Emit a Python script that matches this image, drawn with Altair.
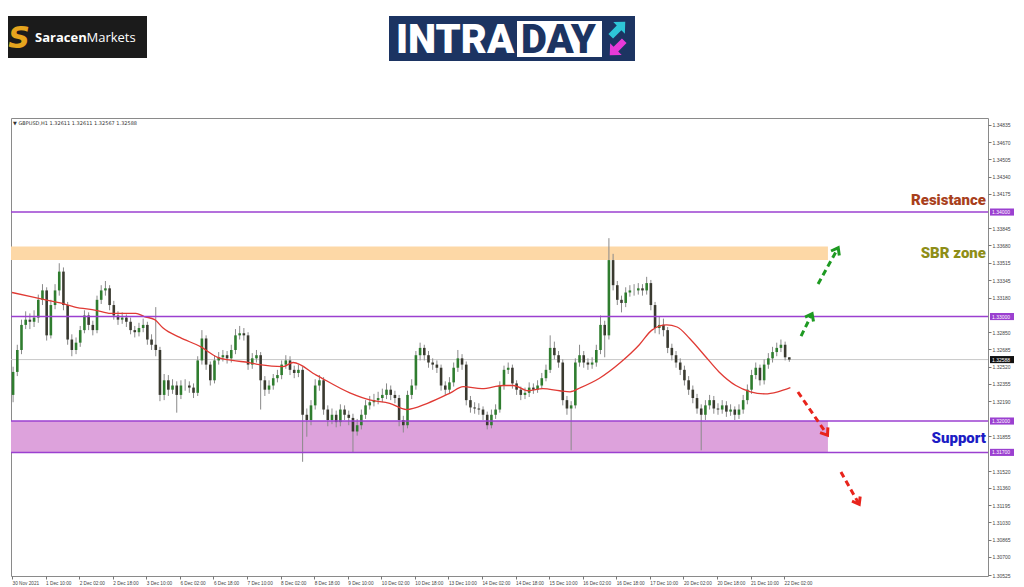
import json
import altair as alt
import pandas as pd

# ------------------------------------------------------------------ data
first_open = 1.3225
closes = [
    1.3247, 1.3268, 1.3292, 1.3297, 1.3295, 1.3299, 1.3316, 1.3325, 1.3282, 1.3311,
    1.3325, 1.3343, 1.3311, 1.3278, 1.3268, 1.3275, 1.3287, 1.3301, 1.3292, 1.3287,
    1.3316, 1.3325, 1.3327, 1.3311, 1.3301, 1.3297, 1.3299, 1.3295, 1.3287, 1.3285,
    1.3289, 1.3292, 1.3278, 1.3273, 1.3268, 1.3225, 1.3239, 1.3230, 1.3234, 1.3225,
    1.3234, 1.3234, 1.3232, 1.3227, 1.3258, 1.3279, 1.3254, 1.3239, 1.3258, 1.3261,
    1.3263, 1.3260, 1.3268, 1.3282, 1.3284, 1.3282, 1.3254, 1.3260, 1.3263, 1.3239,
    1.3230, 1.3234, 1.3241, 1.3244, 1.3254, 1.3258, 1.3249, 1.3246, 1.3249, 1.3206,
    1.3201, 1.3215, 1.3234, 1.3239, 1.3211, 1.3201, 1.3206, 1.3199, 1.3211, 1.3206,
    1.3203, 1.3190, 1.3196, 1.3206, 1.3215, 1.3218, 1.3220, 1.3222, 1.3225, 1.3230,
    1.3225, 1.3222, 1.3201, 1.3196, 1.3225, 1.3234, 1.3263, 1.3270, 1.3263, 1.3256,
    1.3254, 1.3251, 1.3234, 1.3230, 1.3237, 1.3251, 1.3260, 1.3254, 1.3220, 1.3213,
    1.3212, 1.3211, 1.3206, 1.3196, 1.3206, 1.3211, 1.3234, 1.3249, 1.3251, 1.3236,
    1.3230, 1.3225, 1.3227, 1.3232, 1.3230, 1.3234, 1.3241, 1.3249, 1.3270, 1.3263,
    1.3256, 1.3220, 1.3212, 1.3215, 1.3256, 1.3263, 1.3256, 1.3254, 1.3256, 1.3268,
    1.3292, 1.3282, 1.3354, 1.3330, 1.3316, 1.3313, 1.3323, 1.3325, 1.3325, 1.3327,
    1.3325, 1.3332, 1.3311, 1.3289, 1.3292, 1.3287, 1.3270, 1.3263, 1.3256, 1.3249,
    1.3239, 1.3230, 1.3222, 1.3212, 1.3206, 1.3215, 1.3220, 1.3212, 1.3211, 1.3215,
    1.3209, 1.3211, 1.3206, 1.3211, 1.3220, 1.3230, 1.3244, 1.3251, 1.3239, 1.3254,
    1.3260, 1.3266, 1.3270, 1.3273, 1.3261, 1.32588,
]
highs = [
    1.3252, 1.3273, 1.3297, 1.3305, 1.3303, 1.3306, 1.3321, 1.3331, 1.3328, 1.3316,
    1.3331, 1.3351, 1.3347, 1.3314, 1.3283, 1.3280, 1.3291, 1.3306, 1.3304, 1.3296,
    1.3320, 1.3330, 1.3334, 1.3330, 1.3315, 1.3305, 1.3304, 1.3302, 1.3299, 1.3291,
    1.3294, 1.3298, 1.3295, 1.3283, 1.3309, 1.3271, 1.3245, 1.3244, 1.3240, 1.3238,
    1.3239, 1.3240, 1.3238, 1.3236, 1.3262, 1.3287, 1.3282, 1.3257, 1.3263, 1.3266,
    1.3268, 1.3267, 1.3273, 1.3288, 1.3291, 1.3289, 1.3285, 1.3265, 1.3268, 1.3266,
    1.3243, 1.3239, 1.3245, 1.3249, 1.3258, 1.3263, 1.3262, 1.3253, 1.3254, 1.3252,
    1.3212, 1.3220, 1.3240, 1.3244, 1.3242, 1.3215, 1.3212, 1.3210, 1.3216, 1.3215,
    1.3210, 1.3207, 1.3202, 1.3211, 1.3220, 1.3224, 1.3226, 1.3228, 1.3231, 1.3236,
    1.3234, 1.3229, 1.3225, 1.3205, 1.3229, 1.3240, 1.3267, 1.3275, 1.3273, 1.3267,
    1.3260, 1.3258, 1.3254, 1.3238, 1.3242, 1.3256, 1.3268, 1.3264, 1.3257, 1.3224,
    1.3218, 1.3217, 1.3214, 1.3209, 1.3211, 1.3216, 1.3238, 1.3253, 1.3256, 1.3254,
    1.3239, 1.3233, 1.3232, 1.3237, 1.3236, 1.3239, 1.3246, 1.3254, 1.3282, 1.3276,
    1.3267, 1.3259, 1.3224, 1.3219, 1.3260, 1.3273, 1.3267, 1.3260, 1.3261, 1.3273,
    1.3301, 1.3296, 1.3375, 1.3360, 1.3334, 1.3320, 1.3328, 1.3330, 1.3331, 1.3332,
    1.3331, 1.3338, 1.3335, 1.3314, 1.3300, 1.3298, 1.3290, 1.3274, 1.3267, 1.3260,
    1.3253, 1.3243, 1.3234, 1.3226, 1.3216, 1.3220, 1.3225, 1.3224, 1.3217, 1.3220,
    1.3219, 1.3216, 1.3214, 1.3216, 1.3225, 1.3235, 1.3249, 1.3256, 1.3254, 1.3259,
    1.3265, 1.3271, 1.3275, 1.3278, 1.3276, 1.32611,
]
lows = [
    1.3218, 1.3243, 1.3264, 1.3288, 1.3288, 1.3290, 1.3294, 1.3311, 1.3277, 1.3279,
    1.3307, 1.3320, 1.3306, 1.3273, 1.3262, 1.3264, 1.3271, 1.3284, 1.3287, 1.3282,
    1.3284, 1.3312, 1.3320, 1.3306, 1.3297, 1.3292, 1.3293, 1.3290, 1.3283, 1.3280,
    1.3281, 1.3285, 1.3273, 1.3268, 1.3262, 1.3219, 1.3220, 1.3224, 1.3226, 1.3208,
    1.3221, 1.3229, 1.3227, 1.3222, 1.3224, 1.3254, 1.3249, 1.3234, 1.3236, 1.3254,
    1.3257, 1.3255, 1.3256, 1.3264, 1.3278, 1.3277, 1.3249, 1.3250, 1.3256, 1.3211,
    1.3224, 1.3226, 1.3230, 1.3237, 1.3240, 1.3250, 1.3244, 1.3241, 1.3242, 1.3161,
    1.3185, 1.3196, 1.3211, 1.3229, 1.3206, 1.3195, 1.3197, 1.3194, 1.3195, 1.3201,
    1.3196, 1.3170, 1.3186, 1.3192, 1.3202, 1.3211, 1.3214, 1.3216, 1.3218, 1.3221,
    1.3220, 1.3217, 1.3195, 1.3189, 1.3193, 1.3221, 1.3230, 1.3258, 1.3258, 1.3251,
    1.3249, 1.3246, 1.3229, 1.3225, 1.3226, 1.3233, 1.3247, 1.3249, 1.3215, 1.3208,
    1.3207, 1.3206, 1.3201, 1.3192, 1.3193, 1.3202, 1.3208, 1.3230, 1.3245, 1.3231,
    1.3225, 1.3220, 1.3221, 1.3223, 1.3226, 1.3227, 1.3231, 1.3238, 1.3246, 1.3259,
    1.3251, 1.3215, 1.3206, 1.3172, 1.3212, 1.3252, 1.3251, 1.3249, 1.3250, 1.3252,
    1.3264, 1.3261, 1.3278, 1.3325, 1.3311, 1.3304, 1.3309, 1.3319, 1.3320, 1.3321,
    1.3320, 1.3321, 1.3306, 1.3284, 1.3283, 1.3281, 1.3265, 1.3258, 1.3251, 1.3244,
    1.3234, 1.3225, 1.3217, 1.3207, 1.3172, 1.3201, 1.3211, 1.3207, 1.3206, 1.3207,
    1.3204, 1.3205, 1.3201, 1.3202, 1.3207, 1.3216, 1.3226, 1.3240, 1.3234, 1.3235,
    1.3250, 1.3256, 1.3262, 1.3266, 1.3258, 1.32567,
]

# moving average (hourly bar index, price)
ma_index = [0, 9, 16, 23, 30, 40, 47, 53, 59, 63, 68, 72, 80, 90, 98, 105, 113, 118,
            129, 134, 145, 161, 171, 180, 188, 198, 209, 215, 224, 234, 239, 246, 253,
            261, 266, 271, 280, 290, 299, 305, 312, 317, 323, 330, 337, 345, 352, 359,
            365, 371]
ma_values = [1.3323, 1.3319, 1.3316, 1.3313, 1.3309, 1.3306, 1.3303, 1.3303, 1.3303,
             1.3300, 1.3297, 1.3289, 1.3280, 1.3271, 1.3261, 1.3258, 1.3256, 1.3254,
             1.3252, 1.3256, 1.3244, 1.3227, 1.3220, 1.3217, 1.3211, 1.3217, 1.3227,
             1.3233, 1.3231, 1.3234, 1.3234, 1.3229, 1.3231, 1.3229, 1.3228, 1.3232,
             1.3241, 1.3256, 1.3273, 1.3287, 1.3292, 1.3290, 1.3279, 1.3263, 1.3247,
             1.3234, 1.3228, 1.3226, 1.3228, 1.3232]

x_tick_labels = ["30 Nov 2021", "1 Dec 10:00", "2 Dec 02:00", "2 Dec 18:00", "3 Dec 10:00",
                 "6 Dec 02:00", "6 Dec 18:00", "7 Dec 10:00", "8 Dec 02:00", "8 Dec 18:00",
                 "9 Dec 10:00", "10 Dec 02:00", "10 Dec 18:00", "13 Dec 10:00", "14 Dec 02:00",
                 "14 Dec 18:00", "15 Dec 10:00", "16 Dec 02:00", "16 Dec 18:00", "17 Dec 10:00",
                 "20 Dec 02:00", "20 Dec 18:00", "21 Dec 10:00", "22 Dec 02:00"]
bars_per_label = 16
y_tick_values = [1.34835, 1.34670, 1.34505, 1.34340, 1.34175, 1.33845, 1.33680, 1.33515,
                 1.33345, 1.33180, 1.32850, 1.32685, 1.32520, 1.32355, 1.32190, 1.31855,
                 1.31520, 1.31360, 1.31195, 1.31030, 1.30865, 1.30700, 1.30525]

level_prices = [1.34000, 1.33000, 1.32000, 1.31700]
level_labels = ["1.34000", "1.33000", "1.32000", "1.31700"]
current_price = 1.32588
current_label = "1.32588"

zone_names = ["SBR", "Support"]
zone_low = [1.3354, 1.3170]
zone_high = [1.3367, 1.3200]
zone_end = [388.9, 388.9]
zone_colors = ["#fdd8a6", "#dda2dc"]

note_texts = ["Resistance", "SBR zone", "Support"]
note_prices = [1.34115, 1.33608, 1.31837]
note_colors = ["#a8401c", "#8e8e18", "#1c1cc4"]

arrow_x0 = [384.2, 376.1, 374.6, 395.1]
arrow_p0 = [1.33311, 1.32813, 1.32278, 1.31512]
arrow_x1 = [393.2, 380.8, 388.0, 403.2]
arrow_p1 = [1.33636, 1.33005, 1.31885, 1.31225]
arrow_colors = ["#1e9a22", "#1e9a22", "#e8241c", "#e8241c"]
arrow_angles = [29, 27, 146, 150]

header_text = "\u25bc GBPUSD,H1  1.32611 1.32611 1.32567 1.32588"

# ------------------------------------------------------------------ frames
n = min(len(closes), len(highs), len(lows))
opens = [first_open] + closes[: n - 1]
candles = pd.DataFrame({
    "i": [2 * k + 0.5 for k in range(n)],
    "open": opens,
    "close": closes[:n],
    "high": highs[:n],
    "low": lows[:n],
})
candles["up"] = candles["close"] >= candles["open"]

ma_df = pd.DataFrame({"i": ma_index, "ma": ma_values})
zones = pd.DataFrame({"name": zone_names, "lo": zone_low, "hi": zone_high,
                      "x0": [-0.5, -0.5], "x1": zone_end, "c": zone_colors})
levels = pd.DataFrame({"p": level_prices, "lab": level_labels})
cur = pd.DataFrame({"p": [current_price], "lab": [current_label]})
notes = pd.DataFrame({"t": note_texts, "p": note_prices, "c": note_colors})
arrows = pd.DataFrame({"x0": arrow_x0, "p0": arrow_p0, "x1": arrow_x1, "p1": arrow_p1,
                       "c": arrow_colors, "a": arrow_angles})
one = pd.DataFrame({"a": [0]})

W, H = 977, 458
XS = alt.Scale(domain=[-0.5, 465.2], nice=False, zero=False)
YS = alt.Scale(domain=[1.30517, 1.3490], nice=False, zero=False)

label_arr = json.dumps(x_tick_labels).replace('"', "'")
x_axis = alt.Axis(values=[bars_per_label * j for j in range(len(x_tick_labels))],
                  labelExpr=f"{label_arr}[round(datum.value/{bars_per_label})]",
                  labelAlign="left", labelFontSize=4.7, labelFont="Liberation Sans",
                  labelColor="#444", labelPadding=1, tickSize=3, tickColor="#777",
                  domain=False, grid=False, title=None, labelOverlap=False,
                  labelBound=False, labelFlush=False)
y_axis = alt.Axis(orient="right", values=y_tick_values, format=".5f", labelFontSize=5,
                  labelFont="Liberation Sans", labelColor="#444", labelPadding=1,
                  tickSize=3, tickColor="#777", domain=False, grid=False, title=None,
                  labelOverlap=False, labelBound=False, labelFlush=False)

X = lambda f: alt.X(f, type="quantitative", scale=XS, axis=x_axis)
Y = lambda f: alt.Y(f, type="quantitative", scale=YS, axis=y_axis)

zone_layer = alt.Chart(zones).mark_rect().encode(
    x=X("x0"), x2="x1:Q", y=Y("lo"), y2="hi:Q",
    color=alt.Color("c:N", scale=None))

cur_line = alt.Chart(cur).mark_rule(color="#c8c8c8", strokeWidth=1).encode(y=Y("p"))

wicks = alt.Chart(candles).mark_rule(color="#8a8a8a", strokeWidth=1).encode(
    x=X("i"), y=Y("low"), y2="high")
bodies = alt.Chart(candles).mark_rule(strokeWidth=2.6, strokeCap="butt").encode(
    x=X("i"), y=Y("open"), y2="close",
    color=alt.condition("datum.up", alt.value("#2f7d2f"), alt.value("#3a3a30")))

ma_line = alt.Chart(ma_df).mark_line(color="#e03a34", strokeWidth=1.3,
                                     interpolate="monotone").encode(x=X("i"), y=Y("ma"))

level_lines = alt.Chart(levels).mark_rule(color="#9b40d0", strokeWidth=1.5).encode(y=Y("p"))

badge_bg = alt.Chart(levels).transform_calculate(
    lo="datum.p - 0.00034", hi="datum.p + 0.00034").mark_rect(color="#9b40d0").encode(
    x=alt.value(W + 2), x2=alt.value(W + 26), y=Y("lo"), y2="hi:Q")
badge_txt = alt.Chart(levels).mark_text(align="left", baseline="middle", fontSize=5,
                                        font="Liberation Sans", color="white").encode(
    x=alt.value(W + 4), y=Y("p"), text="lab:N")
cur_bg = alt.Chart(cur).transform_calculate(
    lo="datum.p - 0.00034", hi="datum.p + 0.00034").mark_rect(color="#111").encode(
    x=alt.value(W + 2), x2=alt.value(W + 26), y=Y("lo"), y2="hi:Q")
cur_txt = alt.Chart(cur).mark_text(align="left", baseline="middle", fontSize=5,
                                   font="Liberation Sans", color="white").encode(
    x=alt.value(W + 4), y=Y("p"), text="lab:N")

note_layer = alt.Chart(notes).mark_text(align="right", baseline="middle", fontSize=15,
                                        font="Roboto", fontWeight=900).encode(
    x=alt.value(W - 2), y=Y("p"), text="t:N", color=alt.Color("c:N", scale=None))

arrow_lines = alt.Chart(arrows).mark_rule(strokeWidth=3, strokeDash=[6, 4]).encode(
    x=X("x0"), x2="x1:Q", y=Y("p0"), y2="p1:Q", color=alt.Color("c:N", scale=None))
arrow_heads = alt.Chart(arrows).mark_point(
    shape="M -0.9 0.7 L 0 -0.5 L 0.9 0.7", filled=False, strokeWidth=3, size=110,
    opacity=1).encode(x=X("x1"), y=Y("p1"), color=alt.Color("c:N", scale=None),
                      angle=alt.Angle("a:Q", scale=None))

header = alt.Chart(one).mark_text(align="left", baseline="middle", fontSize=5,
                                  font="DejaVu Sans", color="#333").encode(
    x=alt.value(2), y=alt.value(5), text=alt.value(header_text))

# ------------------------------------------------------------------ logos
def box(x, x2, y, y2, color):
    return alt.Chart(one).mark_rect(color=color).encode(
        x=alt.value(x), x2=alt.value(x2), y=alt.value(y), y2=alt.value(y2))

def txt(s, x, y, size, color, weight="normal", font="Open Sans", align="left",
        baseline="middle", italic=False):
    return alt.Chart(one).mark_text(align=align, baseline=baseline, fontSize=size,
                                    font=font, fontWeight=weight, color=color,
                                    fontStyle="italic" if italic else "normal").encode(
        x=alt.value(x), y=alt.value(y), text=alt.value(s))

arrow_path = "M -1 -0.32 L 0.15 -0.32 L 0.15 -0.8 L 1 0 L 0.15 0.8 L 0.15 0.32 L -1 0.32 Z"
logo_layers = [
    box(-3, 136, -102, -60, "#1b1b1b"),
    txt("S", 8, -79, 30, "#e6a51e", weight="bold", font="DejaVu Sans", align="center",
        italic=True),
    txt("Saracen", 24, -80, 13, "white", weight="bold"),
    txt("Markets", 75.5, -80, 13, "white"),
    box(378, 624, -102, -57, "#1c3462"),
    box(506, 591, -97, -61, "white"),
    txt("INTRA", 385, -65, 40, "white", weight=900, font="Roboto",
        baseline="alphabetic"),
    txt("DAY", 510, -65, 40, "#1c3462", weight=900, font="Roboto",
        baseline="alphabetic"),
    alt.Chart(one).mark_point(shape=arrow_path, filled=True, size=420, color="#2ec6d8",
                              opacity=1, angle=315).encode(
        x=alt.value(607), y=alt.value(-89)),
    alt.Chart(one).mark_point(shape=arrow_path, filled=True, size=420, color="#e83ad8",
                              opacity=1, angle=135).encode(
        x=alt.value(606), y=alt.value(-70)),
]

chart = alt.layer(
    zone_layer, cur_line, wicks, bodies, ma_line, level_lines,
    badge_bg, badge_txt, cur_bg, cur_txt, note_layer, arrow_lines, arrow_heads,
    header, *logo_layers,
).properties(
    width=W, height=H,
    padding={"left": 3, "top": 110, "right": 28, "bottom": 12},
    autosize=alt.AutoSizeParams(type="none"),
    background="white",
).configure_view(stroke="#8a8a8a", strokeWidth=1)

chart.save("out.html", embed_options={"renderer": "svg", "actions": False})
